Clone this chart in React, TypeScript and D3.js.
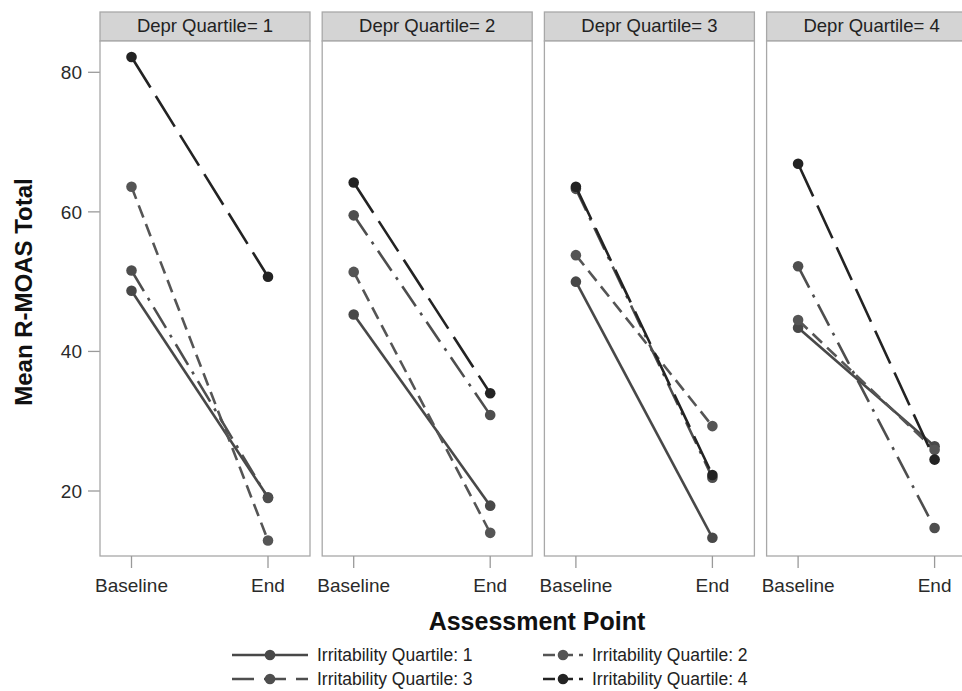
import React from "react";
import * as d3 from "d3";

// assessment points (x categories)
const categories = ["Baseline", "End"];
// facet panels
const panels = ["Depr Quartile= 1", "Depr Quartile= 2", "Depr Quartile= 3", "Depr Quartile= 4"];
const yTicks = [20, 40, 60, 80];

// mean R-MOAS total per depression quartile panel, one array per irritability quartile
const q1Baseline = [48.7, 45.3, 50.0, 43.4];
const q1End = [19.1, 17.9, 13.3, 26.4];
const q2Baseline = [63.6, 51.4, 53.8, 44.5];
const q2End = [12.9, 14.0, 29.3, 25.9];
const q3Baseline = [51.6, 59.5, 63.3, 52.2];
const q3End = [19.0, 30.9, 21.9, 14.7];
const q4Baseline = [82.2, 64.2, 63.6, 66.9];
const q4End = [50.7, 34.0, 22.3, 24.5];

const seriesNames = [
  "Irritability Quartile: 1",
  "Irritability Quartile: 2",
  "Irritability Quartile: 3",
  "Irritability Quartile: 4",
];

const series = [
  { name: seriesNames[0], base: q1Baseline, end: q1End, color: "#484848", dash: "none" },
  { name: seriesNames[1], base: q2Baseline, end: q2End, color: "#555555", dash: "13,7" },
  { name: seriesNames[2], base: q3Baseline, end: q3End, color: "#4e4e4e", dash: "24,8,3,8" },
  { name: seriesNames[3], base: q4Baseline, end: q4End, color: "#232323", dash: "36,10" },
];

const W = 962;
const H = 691;
const panelLeft = 100;
const panelW = 210;
const panelStep = 222.2;
const headerTop = 12;
const plotTop = 41;
const plotBottom = 556;
const font = "'Liberation Sans', Arial, sans-serif";

export default function App() {
  // y: 80 at 72.3px, 20 at 491px
  const y = d3
    .scaleLinear()
    .domain([20, 80])
    .range([491, 72.3]);

  const xIn = d3.scalePoint<string>().domain(categories).range([31.5, 168]);

  const line = d3
    .line<[string, number]>()
    .x((d) => xIn(d[0]) as number)
    .y((d) => y(d[1]));

  const legendRows = [
    { s: series[0], x: 232, w: 76, ty: 655 },
    { s: series[1], x: 543, w: 40, ty: 655 },
    { s: series[2], x: 232, w: 76, ty: 679 },
    { s: series[3], x: 543, w: 40, ty: 679 },
  ];

  return (
    <svg
      width={W}
      height={H}
      style={{ position: "absolute", left: 0, top: 0, background: "#fff" }}
      fontFamily={font}
    >
      {/* y axis */}
      {yTicks.map((t) => (
        <g key={t}>
          <line x1={88} x2={panelLeft} y1={y(t)} y2={y(t)} stroke="#9a9a9a" strokeWidth={1.3} />
          <text x={82} y={y(t)} dy="0.35em" textAnchor="end" fontSize={19} fill="#2a2a2a">
            {t}
          </text>
        </g>
      ))}
      <text
        transform={`translate(32,292) rotate(-90)`}
        textAnchor="middle"
        fontSize={24}
        fontWeight="bold"
        fill="#111"
      >
        Mean R-MOAS Total
      </text>

      {panels.map((p, i) => {
        const left = panelLeft + i * panelStep;
        return (
          <g key={p} transform={`translate(${left},0)`}>
            <rect
              x={0}
              y={headerTop}
              width={panelW}
              height={plotTop - headerTop}
              fill="#d4d4d4"
              stroke="#a8a8a8"
              strokeWidth={1.3}
            />
            <text x={panelW / 2} y={32} textAnchor="middle" fontSize={18.5} fill="#222">
              {p}
            </text>
            <rect
              x={0}
              y={plotTop}
              width={panelW}
              height={plotBottom - plotTop}
              fill="#fff"
              stroke="#a8a8a8"
              strokeWidth={1.3}
            />
            {categories.map((c) => (
              <g key={c}>
                <line
                  x1={xIn(c)}
                  x2={xIn(c)}
                  y1={plotBottom}
                  y2={plotBottom + 12}
                  stroke="#9a9a9a"
                  strokeWidth={1.3}
                />
                <text x={xIn(c)} y={592} textAnchor="middle" fontSize={19} fill="#2a2a2a">
                  {c}
                </text>
              </g>
            ))}
            {series.map((s) => {
              const pts: [string, number][] = [
                [categories[0], s.base[i]],
                [categories[1], s.end[i]],
              ];
              return (
                <g key={s.name}>
                  <path
                    d={line(pts) || ""}
                    fill="none"
                    stroke={s.color}
                    strokeWidth={2.6}
                    strokeDasharray={s.dash}
                  />
                  {pts.map((d) => (
                    <circle key={d[0]} cx={xIn(d[0])} cy={y(d[1])} r={5.3} fill={s.color} />
                  ))}
                </g>
              );
            })}
          </g>
        );
      })}

      <text x={537} y={630} textAnchor="middle" fontSize={25} fontWeight="bold" fill="#111">
        Assessment Point
      </text>

      {/* legend */}
      {legendRows.map(({ s, x, w, ty }) => (
        <g key={s.name}>
          <line
            x1={x}
            x2={x + w}
            y1={ty}
            y2={ty}
            stroke={s.color}
            strokeWidth={2.6}
            strokeDasharray={s.dash === "none" ? "none" : w > 50 ? "22,10" : "12,6"}
          />
          <circle cx={x + w / 2} cy={ty} r={5.3} fill={s.color} />
          <text x={x + w + 9} y={ty} dy="0.35em" fontSize={17.5} fill="#222">
            {s.name}
          </text>
        </g>
      ))}
    </svg>
  );
}
